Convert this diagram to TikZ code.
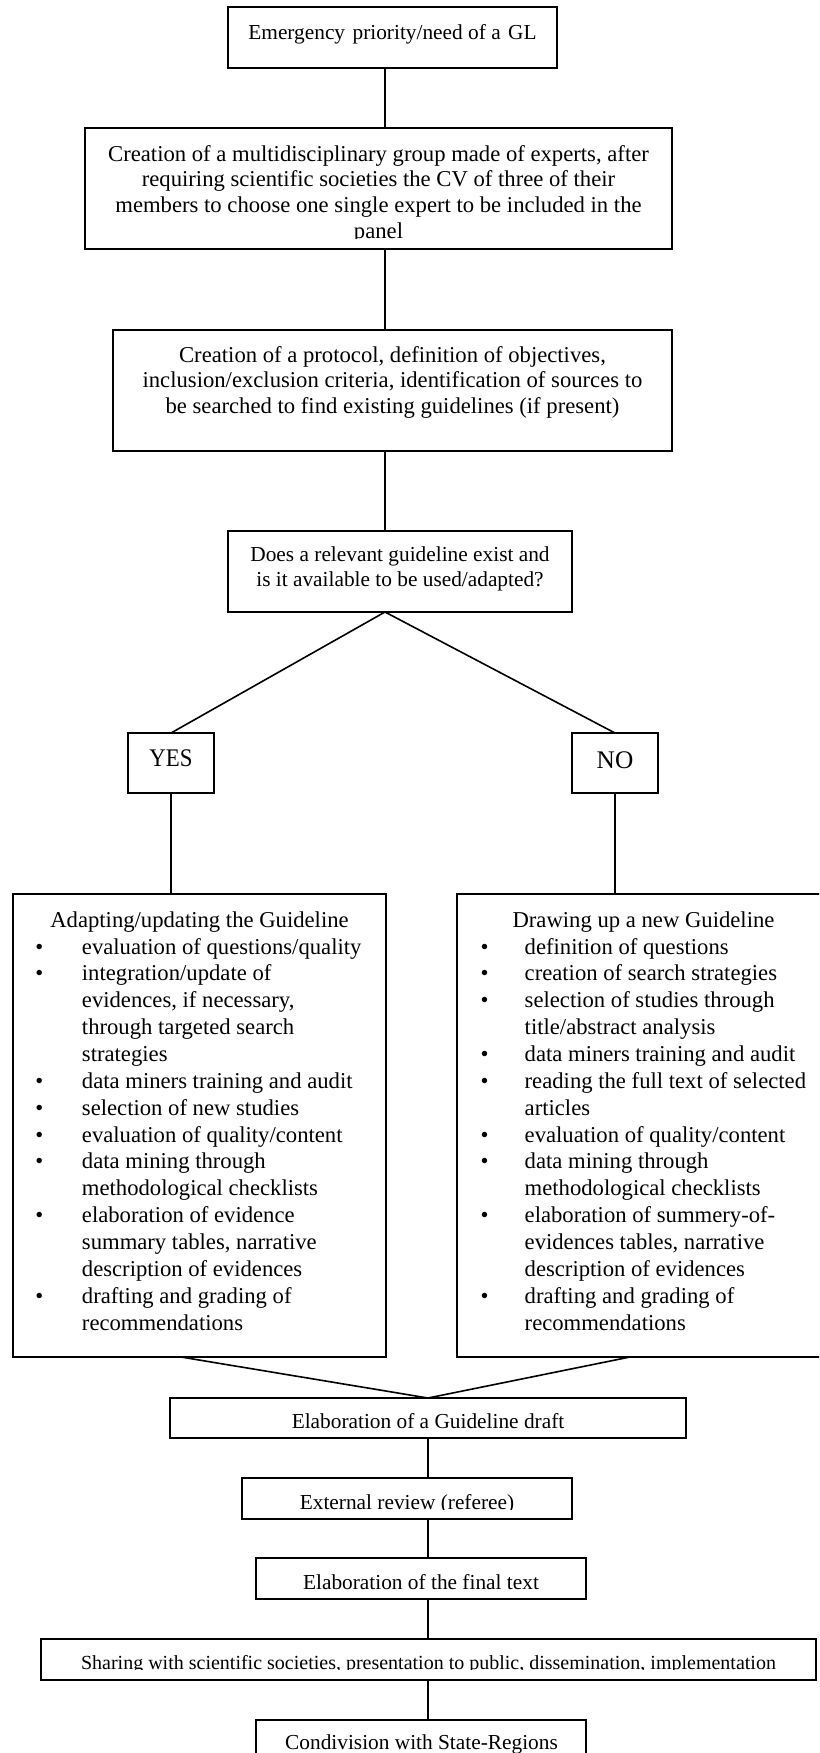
\documentclass[tikz,border=0pt]{standalone}
\usepackage{fontspec}
\setmainfont{Liberation Serif}
\usepackage{graphicx}
\usetikzlibrary{calc}
\newcommand\fnA{\fontsize{17}{19.3}\selectfont}
\newcommand\fnL{\fontsize{17}{20.15}\selectfont}
\newcommand\fnB{\fontsize{16}{18.75}\selectfont}
\newcommand\fnS{\fontsize{15}{18}\selectfont}
\newcommand\fnY{\fontsize{19}{22}\selectfont}
\newcommand\blt[1]{\makebox[#1][l]{\textbullet}}
\begin{document}
\begin{tikzpicture}[x=0.75pt, y=-0.75pt,
  box/.style={draw=black, line width=1.5pt, inner sep=0pt, outer sep=0pt, fill=white},
  wh/.style 2 args={minimum width=#1*0.75pt, minimum height=#2*0.75pt},
  conn/.style={draw=black, line width=1.2pt},
  txt/.style={inner sep=0pt, outer sep=0pt, anchor=base},
  lst/.style={inner sep=0pt, outer sep=0pt, anchor=base west, font=\fnL}]

\fill[white] (0,0) rectangle (819,1753);
\useasboundingbox (0,0) rectangle (819,1753);
\clip (0,0) rectangle (819,1753);

\coordinate (cx) at (385,0);
\coordinate (bx) at (428,0);
\coordinate (la1) at (181,0);
\coordinate (ra1) at (630,0);

% ---- top chain
\node[box, wh={329}{61}] (b1) at (392.5,37.5) {};
\node[txt, font=\fnB] (t1) at (392.5,39) {Emergency\hspace{0.35em}priority/need of a\hspace{0.35em}GL};

\node[box, wh={587}{121}] (b2) at (378.5,188.5) {};
\begin{scope}
  \clip (86,129) rectangle (671,238.6);
  \node[txt, font=\fnA] (t2) at (378.5,161) {\begin{tabular}[t]{@{}c@{}}Creation of a multidisciplinary group made of experts, after\\ requiring scientific societies the CV of three of their\\ members to choose one single expert to be included in the\\ panel\end{tabular}};
\end{scope}

\node[box, wh={559}{121}] (b3) at (392.5,390.5) {};
\node[txt, font=\fnA] (t3) at (392.5,362) {\begin{tabular}[t]{@{}c@{}}Creation of a protocol, definition of objectives,\\ inclusion/exclusion criteria, identification of sources to\\ be searched to find existing guidelines (if present)\end{tabular}};

\node[box, wh={344}{81}] (dec) at (400,571.5) {};
\node[txt, font=\fnB] (tdec) at (400,561.5) {\begin{tabular}[t]{@{}c@{}}Does a relevant guideline exist and\\ is it available to be used/adapted?\end{tabular}};

\node[box, wh={86}{60}] (yes) at (171,763) {};
\node[txt, font=\fnY] (tyes) at (171,766) {\scalebox{0.9}[1]{YES}};
\node[box, wh={86}{60}] (no) at (615,763) {};
\node[txt, font=\fnY] (tno) at (615,768) {NO};

% ---- two branches
\node[box, wh={373}{463}] (adapt) at (199.5,1125.5) {};
\node[box, wh={373}{463}] (newgl) at (643.5,1125.5) {};
\node[txt, font=\fnL] (ta) at (199.5,927) {Adapting/updating the Guideline};
\node[txt, font=\fnL] (tn) at (643.5,927) {Drawing up a new Guideline};

\node[lst] (la) at (35.3,954) {\begin{tabular}[t]{@{}l@{}}%
\blt{35pt}evaluation of questions/quality\\
\blt{35pt}integration/update of\\
\hspace*{35pt}evidences, if necessary,\\
\hspace*{35pt}through targeted search\\
\hspace*{35pt}strategies\\
\blt{35pt}data miners training and audit\\
\blt{35pt}selection of new studies\\
\blt{35pt}evaluation of quality/content\\
\blt{35pt}data mining through\\
\hspace*{35pt}methodological checklists\\
\blt{35pt}elaboration of evidence\\
\hspace*{35pt}summary tables, narrative\\
\hspace*{35pt}description of evidences\\
\blt{35pt}drafting and grading of\\
\hspace*{35pt}recommendations\end{tabular}};

\node[lst] (ln) at (480.7,954) {\begin{tabular}[t]{@{}l@{}}%
\blt{33pt}definition of questions\\
\blt{33pt}creation of search strategies\\
\blt{33pt}selection of studies through\\
\hspace*{33pt}title/abstract analysis\\
\blt{33pt}data miners training and audit\\
\blt{33pt}reading the full text of selected\\
\hspace*{33pt}articles\\
\blt{33pt}evaluation of quality/content\\
\blt{33pt}data mining through\\
\hspace*{33pt}methodological checklists\\
\blt{33pt}elaboration of summery-of-\\
\hspace*{33pt}evidences tables, narrative\\
\hspace*{33pt}description of evidences\\
\blt{33pt}drafting and grading of\\
\hspace*{33pt}recommendations\end{tabular}};

% ---- bottom chain
\node[box, wh={516}{40}] (draft) at (428,1418) {};
\node[txt, font=\fnB] (tdraft) at (428,1428) {Elaboration of a Guideline draft};

\node[box, wh={330}{41}] (ext) at (407,1498.5) {};
\begin{scope}
  \clip (243,1479) rectangle (571,1509.8);
  \node[txt, font=\fnB] (text) at (407,1509) {External review (referee)};
\end{scope}

\node[box, wh={330}{41}] (fin) at (421,1578.5) {};
\node[txt, font=\fnB] (tfin) at (421,1589) {Elaboration of the final text};

\node[box, wh={775}{41}] (share) at (428.5,1659.5) {};
\begin{scope}
  \clip (42,1640) rectangle (815,1669.8);
  \node[txt, font=\fnS] (tshare) at (428.5,1669) {Sharing with scientific societies, presentation to public, dissemination, implementation};
\end{scope}

\node[box, wh={330}{41}] (cond) at (421,1740.5) {};
\node[txt, font=\fnB] (tcond) at (421.5,1749) {Condivision with State-Regions};

% ---- connectors
\draw[conn] (b1.south -| cx) -- (b2.north -| cx);
\draw[conn] (b2.south -| cx) -- (b3.north -| cx);
\draw[conn] (b3.south -| cx) -- (dec.north -| cx);
\draw[conn] (dec.south -| cx) -- (yes.north);
\draw[conn] (dec.south -| cx) -- (no.north);
\draw[conn] (yes.south) -- (adapt.north -| yes.south);
\draw[conn] (no.south) -- (newgl.north -| no.south);
\draw[conn] (adapt.south -| la1) -- (draft.north -| bx);
\draw[conn] (newgl.south -| ra1) -- (draft.north -| bx);
\draw[conn] (draft.south -| bx) -- (ext.north -| bx);
\draw[conn] (ext.south -| bx) -- (fin.north -| bx);
\draw[conn] (fin.south -| bx) -- (share.north -| bx);
\draw[conn] (share.south -| bx) -- (cond.north -| bx);
\end{tikzpicture}
\end{document}
